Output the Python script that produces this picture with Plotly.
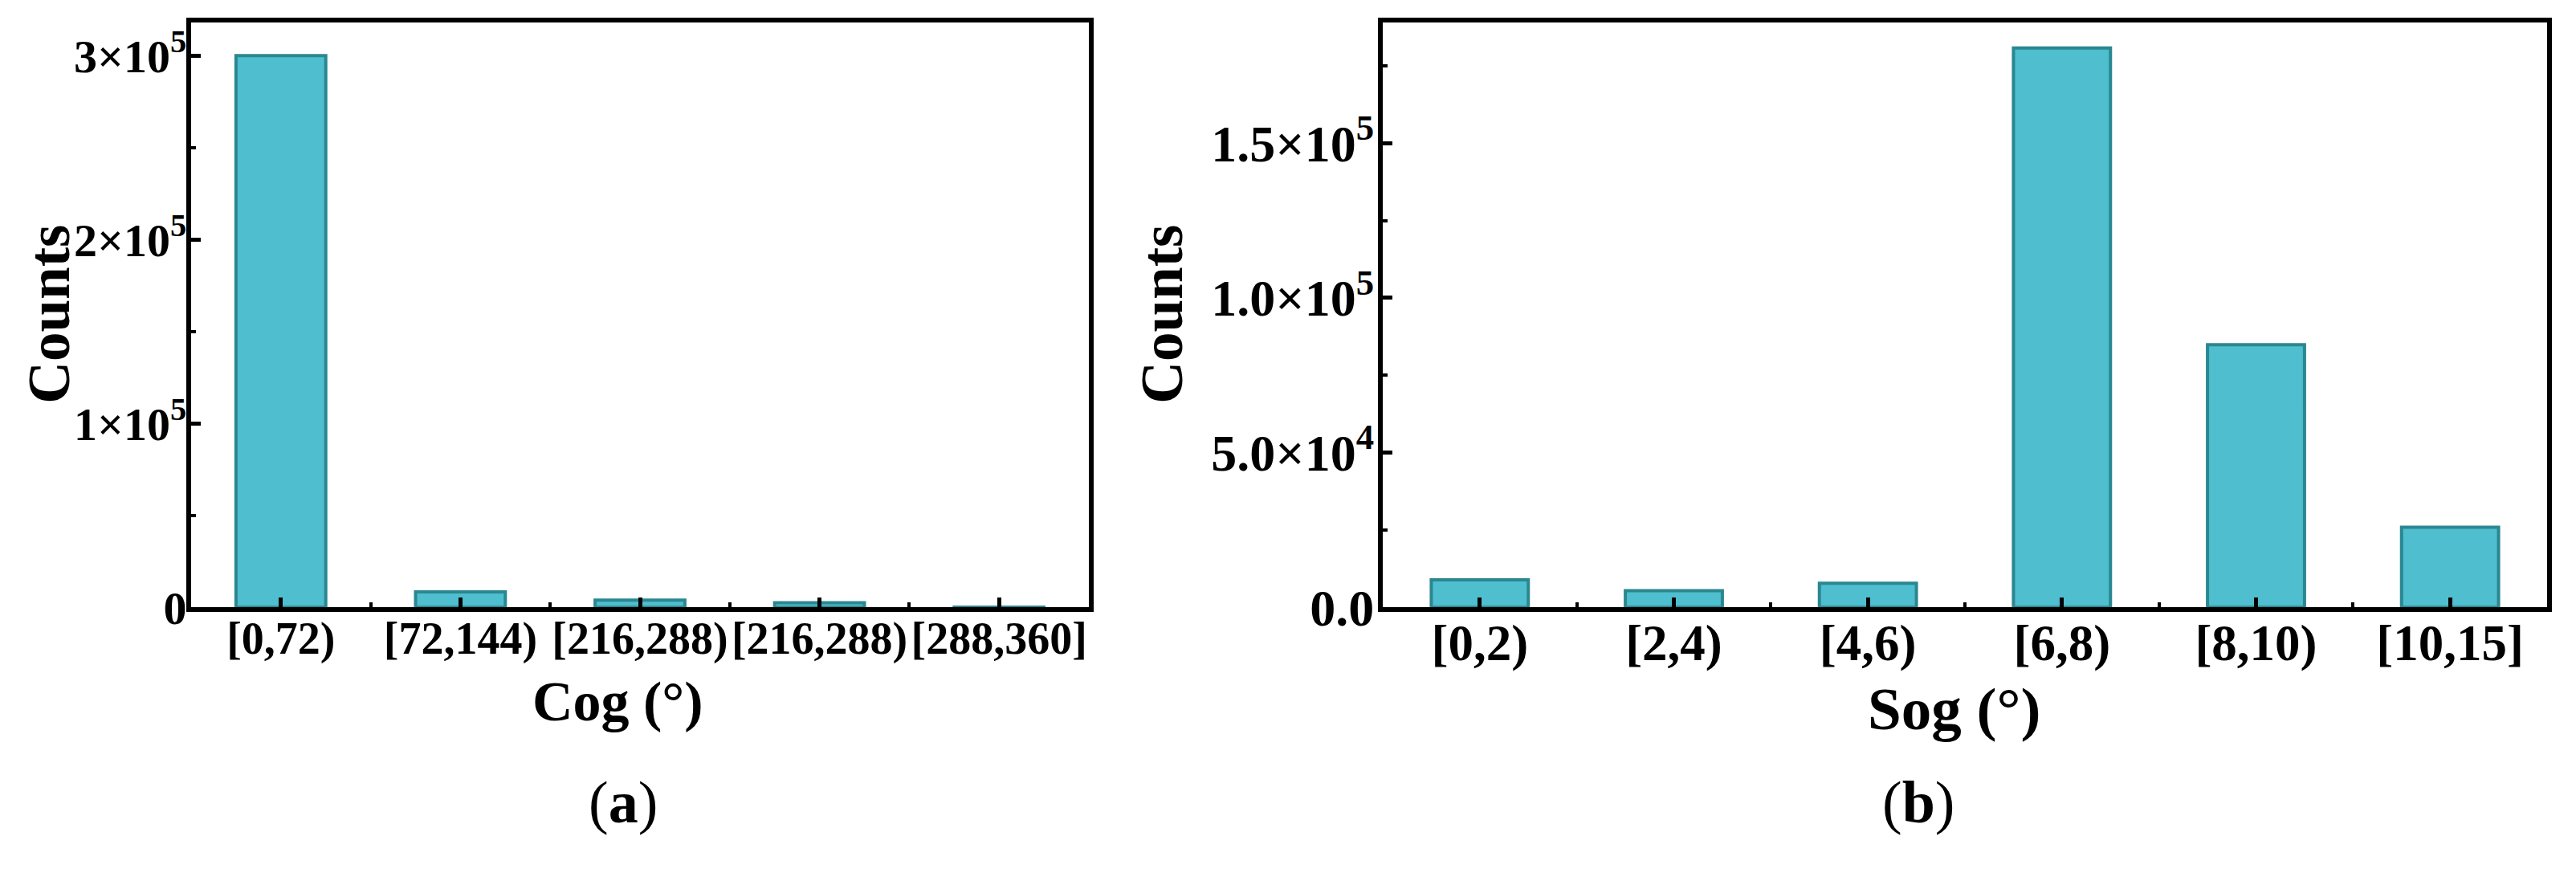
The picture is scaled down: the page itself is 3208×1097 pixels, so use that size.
import plotly.graph_objects as go

# ---- data ----
cog_bins = ["[0,72)", "[72,144)", "[216,288)", "[216,288)", "[288,360]"]
cog_counts = [300000, 8400, 4000, 2500, 200]
cog_ytick_vals = [0, 100000, 200000, 300000]
cog_ytick_text = ["0", "1×10<sup>5</sup>", "2×10<sup>5</sup>", "3×10<sup>5</sup>"]

sog_bins = ["[0,2)", "[2,4)", "[4,6)", "[6,8)", "[8,10)", "[10,15]"]
sog_counts = [8900, 5400, 7800, 180800, 84900, 25900]
sog_ytick_vals = [0, 50000, 100000, 150000]
sog_ytick_text = ["0.0", "5.0×10<sup>4</sup>", "1.0×10<sup>5</sup>", "1.5×10<sup>5</sup>"]

FONT = "Liberation Serif"
BAR_FILL = "#4FBECE"
BAR_EDGE = "#2A8790"

W, H = 3208, 1097


def add_panel(fig, bins, counts, xa, ya):
    '''Adds one bar panel; bars are placed by category index.'''
    fig.add_trace(go.Bar(
        x=list(range(len(bins))),
        y=counts,
        width=0.5,
        marker=dict(color=BAR_FILL, line=dict(color=BAR_EDGE, width=4)),
        xaxis=xa, yaxis=ya,
        showlegend=False,
    ))


def x_axis(bins, domain, anchor, size):
    return dict(
        domain=domain, anchor=anchor,
        range=[-0.5, len(bins) - 0.5],
        tickmode="array", tickvals=list(range(len(bins))), ticktext=bins,
        tickangle=0,
        ticks="inside", ticklen=12, tickwidth=5, tickcolor="black",
        minor=dict(tickmode="linear", tick0=0.5, dtick=1, ticks="inside",
                   ticklen=6, tickwidth=4, tickcolor="black"),
        showline=True, linewidth=6, linecolor="black", mirror=True,
        showgrid=False, zeroline=False,
        tickfont=dict(family=FONT, size=size, color="black", weight="bold"),
        ticklabelstandoff=-16,
    )


def y_axis(rng, vals, text, minor_step, domain, anchor, size, standoff):
    return dict(
        domain=domain, anchor=anchor, range=rng,
        tickmode="array", tickvals=vals, ticktext=text,
        ticks="inside", ticklen=12, tickwidth=5, tickcolor="black",
        minor=dict(tickmode="linear", tick0=0, dtick=minor_step, ticks="inside",
                   ticklen=6, tickwidth=4, tickcolor="black"),
        showline=True, linewidth=6, linecolor="black", mirror=True,
        showgrid=False, zeroline=False,
        tickfont=dict(family=FONT, size=size, color="black", weight="bold"),
        ticklabelstandoff=standoff,
    )


fig = go.Figure()
add_panel(fig, cog_bins, cog_counts, "x", "y")
add_panel(fig, sog_bins, sog_counts, "x2", "y2")

y_dom = [1 - 782 / H, 1 - 29 / H]

fig.update_layout(
    width=W, height=H,
    margin=dict(l=0, r=0, t=0, b=0),
    paper_bgcolor="white", plot_bgcolor="white",
    font=dict(family=FONT, color="black"),
    xaxis=x_axis(cog_bins, [238 / W, 1356 / W], "y", 56),
    yaxis=y_axis([0, 318000], cog_ytick_vals, cog_ytick_text, 50000, y_dom, "x", 58, -12),
    xaxis2=x_axis(sog_bins, [1722 / W, 3172 / W], "y2", 63),
    yaxis2=y_axis([0, 189000], sog_ytick_vals, sog_ytick_text, 25000, y_dom, "x2", 64, -8),
)

# axis titles and sub-figure captions
labels = [
    ("Counts", 62, 405, 73, -90, "bold"),
    ("Counts", 1448, 405, 73, -90, "bold"),
    ("Cog (°)", 769, 903, 70, 0, "bold"),
    ("Sog (°)", 2433, 912, 75, 0, "bold"),
    ("(<b>a</b>)", 776, 1033, 74, 0, "normal"),
    ("(<b>b</b>)", 2389, 1033, 74, 0, "normal"),
]
for text, px, py, size, angle, weight in labels:
    fig.add_annotation(
        text=text, x=px / W, y=1 - py / H, xref="paper", yref="paper",
        xanchor="center", yanchor="middle", showarrow=False, textangle=angle,
        font=dict(family=FONT, size=size, color="black", weight=weight),
    )

# page body margin would push the 3208x1097 figure out of the window
fig.write_html("out.html",
               config={"displayModeBar": False},
               post_script="document.body.style.margin='0';"
                           "document.body.style.overflow='hidden';")
